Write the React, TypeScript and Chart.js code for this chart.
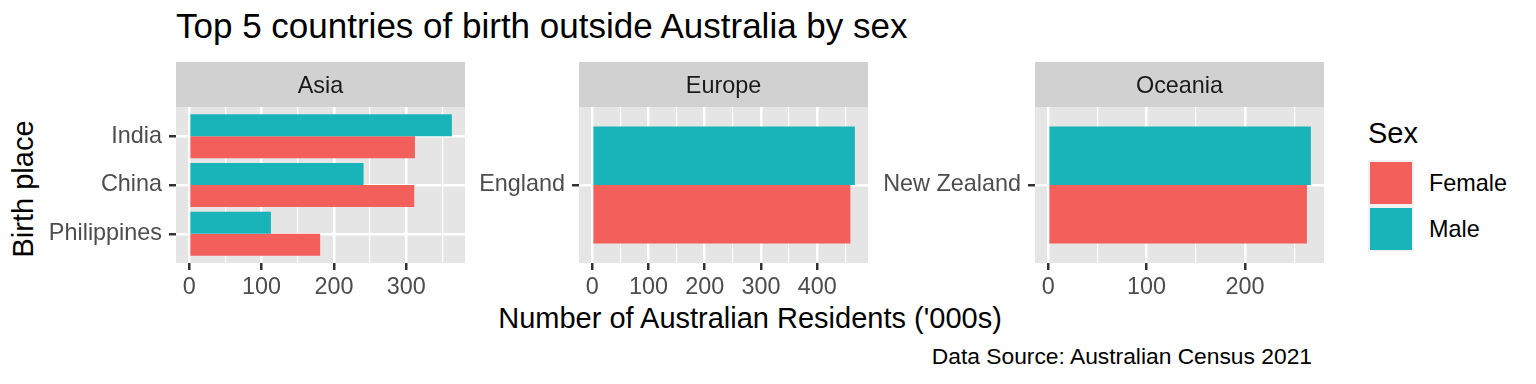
import React, { useEffect, useRef } from 'react';
import { Chart, registerables } from 'chart.js';

Chart.register(...registerables);

// ---------------- data ----------------
const regions = ['Asia', 'Europe', 'Oceania'];
const asiaCountries = ['India', 'China', 'Philippines'];
const asiaMale = [363, 241, 113];
const asiaFemale = [312, 311, 181];
const europeCountries = ['England'];
const europeMale = [467];
const europeFemale = [459];
const oceaniaCountries = ['New Zealand'];
const oceaniaMale = [267];
const oceaniaFemale = [263];
const sexLabels = ['Female', 'Male'];
const titleText = 'Top 5 countries of birth outside Australia by sex';
const xTitleText = "Number of Australian Residents ('000s)";
const yTitleText = 'Birth place';
const captionText = 'Data Source: Australian Census 2021';
const legendTitleText = 'Sex';

// ---------------- style ----------------
const FONT = '"Liberation Sans", Arial, Helvetica, sans-serif';
const FEMALE = '#F35F5B';
const MALE = '#19B4B9';
const PANEL_BG = '#E5E5E5';
const STRIP_BG = '#D1D1D1';
const KEY_BG = '#F2F2F2';
const TICK_COLOR = '#333333';
const TICK_LABEL = '#4D4D4D';

const CANVAS_TOP = 55;
const PANEL_TOP = 107;
const PANEL_BOTTOM = 263;
const CANVAS_BOTTOM = 300;
const STRIP_H = 45;

const panelLayout = [
  { canvasLeft: 40, panelLeft: 176, panelRight: 465 },
  { canvasLeft: 472, panelLeft: 579, panelRight: 868 },
  { canvasLeft: 874, panelLeft: 1035, panelRight: 1324 },
];

const panelData = [
  { cats: asiaCountries, male: asiaMale, female: asiaFemale },
  { cats: europeCountries, male: europeMale, female: europeFemale },
  { cats: oceaniaCountries, male: oceaniaMale, female: oceaniaFemale },
];

const stripPlugin = (label: string) => ({
  id: 'strip',
  beforeDraw(chart: any) {
    const { ctx, chartArea: a } = chart;
    ctx.save();
    ctx.fillStyle = PANEL_BG;
    ctx.fillRect(a.left, a.top, a.right - a.left, a.bottom - a.top);
    ctx.fillStyle = STRIP_BG;
    ctx.fillRect(a.left, a.top - STRIP_H, a.right - a.left, STRIP_H);
    ctx.fillStyle = '#1A1A1A';
    ctx.font = `23.4px ${FONT}`;
    ctx.textAlign = 'center';
    ctx.textBaseline = 'alphabetic';
    ctx.fillText(label, (a.left + a.right) / 2, a.top - 14.3);
    ctx.restore();
  },
});

function Panel({ idx }: { idx: number }) {
  const ref = useRef<HTMLCanvasElement | null>(null);
  const { canvasLeft, panelLeft, panelRight } = panelLayout[idx];
  const { cats, male, female } = panelData[idx];
  const W = panelRight + 6 - canvasLeft;
  const H = CANVAS_BOTTOM - CANVAS_TOP;

  useEffect(() => {
    if (!ref.current) return;
    const n = cats.length;
    const vmax = Math.max(...male, ...female);
    const xmin = -0.05 * vmax;
    const xmax = 1.05 * vmax;
    const cp = n === 1 ? 0.9 / 1.2 : 0.9;
    const isMajor = (c: any) => c.tick && Math.round(c.tick.value) % 100 === 0;
    const chart = new Chart(ref.current, {
      type: 'bar',
      data: {
        datasets: [
          {
            label: 'Male',
            data: cats.map((c, i) => ({ x: male[i], y: i + 1 })),
            backgroundColor: MALE,
            borderWidth: 0,
            categoryPercentage: cp,
            barPercentage: 1,
          },
          {
            label: 'Female',
            data: cats.map((c, i) => ({ x: female[i], y: i + 1 })),
            backgroundColor: FEMALE,
            borderWidth: 0,
            categoryPercentage: cp,
            barPercentage: 1,
          },
        ],
      } as any,
      options: {
        indexAxis: 'y',
        animation: false,
        responsive: false,
        maintainAspectRatio: false,
        devicePixelRatio: 1,
        events: [],
        layout: { padding: { top: PANEL_TOP - CANVAS_TOP, right: 6, left: 0, bottom: 0 } },
        plugins: {
          legend: { display: false },
          tooltip: { enabled: false },
        },
        scales: {
          x: {
            type: 'linear',
            position: 'bottom',
            min: xmin,
            max: xmax,
            offset: false,
            border: { display: false },
            grid: {
              offset: false,
              color: '#FFFFFF',
              lineWidth: (c: any) => (isMajor(c) ? 2.5 : 1.2),
              drawTicks: true,
              tickLength: 7,
              tickWidth: 2.5,
              tickColor: (c: any) => (isMajor(c) ? TICK_COLOR : 'rgba(0,0,0,0)'),
            },
            ticks: {
              autoSkip: false,
              maxRotation: 0,
              padding: 4,
              color: TICK_LABEL,
              font: { family: FONT, size: 23.4 },
              callback: (v: any) => (Math.round(v) % 100 === 0 ? String(Math.round(v)) : ''),
            },
            afterBuildTicks: (axis: any) => {
              const t: any[] = [];
              for (let v = Math.max(0, Math.ceil(xmin / 50) * 50); v <= xmax; v += 50) t.push({ value: v });
              axis.ticks = t;
            },
            afterFit: (axis: any) => {
              axis.height = CANVAS_BOTTOM - PANEL_BOTTOM;
            },
          },
          y: {
            type: 'linear',
            reverse: true,
            min: 0.4,
            max: n + 0.6,
            offset: false,
            bounds: 'data',
            border: { display: false },
            grid: {
              offset: false,
              color: '#FFFFFF',
              lineWidth: 2.5,
              drawTicks: true,
              tickLength: 7,
              tickWidth: 2.5,
              tickColor: TICK_COLOR,
            },
            ticks: {
              autoSkip: false,
              padding: 7,
              color: TICK_LABEL,
              font: { family: FONT, size: 23.4 },
              callback: (v: any, i: number) => cats[i],
            },
            afterBuildTicks: (axis: any) => {
              axis.ticks = cats.map((_, i) => ({ value: i + 1 }));
            },
            afterFit: (axis: any) => {
              axis.width = panelLeft - canvasLeft;
            },
          },
        },
      } as any,
      plugins: [stripPlugin(regions[idx])],
    });
    return () => chart.destroy();
  }, []);

  return (
    <canvas
      ref={ref}
      width={W}
      height={H}
      style={{ position: 'absolute', left: canvasLeft, top: CANVAS_TOP, width: W, height: H }}
    />
  );
}

const txt = (extra: React.CSSProperties): React.CSSProperties => ({
  position: 'absolute',
  fontFamily: FONT,
  lineHeight: 1,
  whiteSpace: 'nowrap',
  color: '#000000',
  ...extra,
});

export default function App() {
  const keyColors = [FEMALE, MALE];
  return (
    <div
      style={{
        position: 'absolute',
        left: 0,
        top: 0,
        width: 1536,
        height: 384,
        background: '#FFFFFF',
        overflow: 'hidden',
      }}
    >
      <div style={txt({ left: 176, top: 8, fontSize: 35 })}>{titleText}</div>
      {panelLayout.map((_, i) => (
        <Panel key={i} idx={i} />
      ))}
      <div style={txt({ left: 750, top: 304, fontSize: 29, transform: 'translateX(-50%)' })}>{xTitleText}</div>
      <div
        style={txt({
          left: 23,
          top: 189,
          fontSize: 29,
          transform: 'translate(-50%, -50%) rotate(-90deg)',
        })}
      >
        {yTitleText}
      </div>
      <div style={txt({ right: 1536 - 1312, top: 345, fontSize: 22.8 })}>{captionText}</div>
      <div style={txt({ left: 1368, top: 119, fontSize: 29 })}>{legendTitleText}</div>
      {sexLabels.map((s, i) => (
        <React.Fragment key={s}>
          <div
            style={{
              position: 'absolute',
              left: 1368,
              top: 159.5 + i * 46,
              width: 46,
              height: 46,
              background: KEY_BG,
            }}
          >
            <div
              style={{
                position: 'absolute',
                left: 2,
                top: 2,
                width: 42,
                height: 42,
                background: keyColors[i],
              }}
            />
          </div>
          <div style={txt({ left: 1429, top: 172 + i * 46, fontSize: 23.4 })}>{s}</div>
        </React.Fragment>
      ))}
    </div>
  );
}
